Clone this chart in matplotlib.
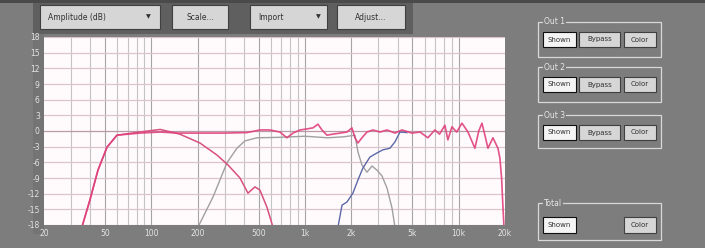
import matplotlib
matplotlib.use("Agg")
import matplotlib.pyplot as plt
from matplotlib.patches import Rectangle

# data (Hz, dB)
woofer_f = [35.3, 39.8, 44.9, 51.4, 59.7, 84, 114, 153, 207, 267, 315, 377, 425, 472, 508, 565, 618]
woofer_db = [-18.4, -13.2, -7.5, -3.1, -0.8, -0.2, 0.3, -0.6, -2.3, -4.6, -6.5, -9.0, -11.9, -10.7, -11.3, -14.6, -18.4]

mid_f = [201, 252, 310, 360, 406, 486, 700, 1000, 1400, 1800, 2111, 2208, 2345, 2528, 2725, 2937, 3165, 3411, 3676, 3846]
mid_db = [-18.4, -12.6, -6.1, -3.3, -1.9, -1.3, -1.2, -1.0, -1.3, -1.1, -0.8, -4.0, -6.5, -7.9, -6.7, -7.5, -8.6, -10.9, -14.7, -18.4]

tweet_f = [1637, 1739, 1873, 2048, 2207, 2378, 2642, 2938, 3213, 3565, 3843, 4144, 4600]
tweet_db = [-18.4, -14.2, -13.6, -11.9, -9.4, -7.1, -5.0, -4.2, -3.6, -3.3, -2.1, -0.2, -0.3]

total_f = [35.3, 39.8, 44.9, 51.4, 59.7, 84, 114, 150, 200, 300, 420, 508, 590, 686, 762, 834, 927,
           1028, 1125, 1213, 1288, 1388, 1518, 1686, 1873, 2019, 2111, 2208, 2345, 2528, 2767, 3070,
           3410, 3843, 4268, 4957, 5600, 6297, 6995, 7500, 8126, 8496, 9034, 9700, 10494, 11481,
           12742, 13500, 14158, 14800, 15490, 16690, 17990, 18530, 19000, 19370, 19700]
total_db = [-18.4, -13.2, -7.5, -3.1, -0.8, -0.4, -0.2, -0.4, -0.4, -0.4, -0.3, 0.2, 0.2, -0.2, -1.3,
            -0.4, 0.2, 0.4, 0.6, 1.3, 0.2, -0.8, -0.6, -0.4, -0.2, 0.6, -1.3, -2.3, -1.3, -0.2, 0.2,
            -0.2, 0.2, -0.4, 0.2, -0.4, -0.2, -1.3, 0.2, -0.6, 1.1, -1.7, 0.8, -0.2, 1.5, -0.2, -3.3,
            0.0, 1.5, -0.8, -3.3, -1.3, -3.3, -5.2, -9.0, -14.2, -18.4]

x_ticks = [20, 50, 100, 200, 500, 1000, 2000, 5000, 10000, 20000]
x_labels = ["20", "50", "100", "200", "500", "1k", "2k", "5k", "10k", "20k"]
y_ticks = list(range(18, -19, -3))

W, H = 705, 248
fig = plt.figure(figsize=(W / 100, H / 100), dpi=100, facecolor="#7d7d7d")

# UI layer in pixel coordinates
ui = fig.add_axes([0, 0, 1, 1])
ui.set_xlim(0, W)
ui.set_ylim(H, 0)
ui.axis("off")
ui.set_zorder(0)


def button(x0, y0, x1, y1, label, face="#d6d6d6", edge="#404040", tc="#303030", fs=5.5, ha="center"):
    ui.add_patch(Rectangle((x0, y0), x1 - x0, y1 - y0, facecolor=face, edgecolor=edge, lw=0.8))
    tx = (x0 + x1) / 2 if ha == "center" else x0 + 8
    ui.text(tx, (y0 + y1) / 2, label, ha=ha, va="center", fontsize=fs, color=tc)


def group(x0, y0, x1, y1, label):
    ui.add_patch(Rectangle((x0, y0), x1 - x0, y1 - y0, facecolor="none", edgecolor="#d8d8d8", lw=0.9))
    ui.text(x0 + 6, y0, label, ha="left", va="center", fontsize=5.5, color="#e8e8e8",
            bbox=dict(facecolor="#7d7d7d", edgecolor="none", pad=0.5))


# toolbar
ui.add_patch(Rectangle((33, 0), 380, 34, facecolor="#5f5f5f", edgecolor="none"))
ui.add_patch(Rectangle((0, 0), W, 3, facecolor="#4a4a4a", edgecolor="none"))
ui.add_patch(Rectangle((33, 34), 11, 200, facecolor="#747474", edgecolor="none"))
button(40, 5, 160, 29, "Amplitude (dB)", ha="left")
ui.text(148, 17, "\u25bc", ha="center", va="center", fontsize=4.5, color="#303030")
button(172, 5, 228, 29, "Scale...")
button(250, 5, 327, 29, "Import", ha="left")
ui.text(318, 17, "\u25bc", ha="center", va="center", fontsize=4.5, color="#303030")
button(337, 5, 405, 29, "Adjust...")

# outputs panel
for i, (ya, yb) in enumerate([(22, 57), (67, 102), (115, 148)]):
    group(538, ya, 661, yb, "Out %d" % (i + 1))
    by0 = ya + 10
    button(543, by0, 576, by0 + 15, "Shown", face="#f4f4f4", edge="#101010", fs=5)
    button(579, by0, 620, by0 + 15, "Bypass", fs=5)
    button(624, by0, 656, by0 + 15, "Color", fs=5)
group(538, 203, 661, 240, "Total")
button(543, 217, 576, 233, "Shown", face="#f4f4f4", edge="#101010", fs=5)
button(624, 217, 656, 233, "Color", fs=5)

# response plot
ax = fig.add_axes([44 / W, 1 - 225 / H, 461 / W, 188 / H])
ax.set_zorder(1)
ax.set_facecolor("#fffbfc")
ax.set_xscale("log")
ax.set_xlim(20, 20000)
ax.set_ylim(-18, 18)

for dec in [10, 100, 1000, 10000]:
    for m in range(1, 10):
        f = dec * m
        if 20 < f < 20000:
            ax.axvline(f, color="#a4a4a4" if m in (1, 2, 5) else "#c4c4c4", lw=0.8, zorder=1)
for yv in y_ticks:
    ax.axhline(yv, color="#dcc4cc" if yv != 0 else "#b89aa4", lw=0.9, zorder=1)

ax.plot(mid_f, mid_db, color="#a0a0a0", lw=1.0, zorder=3)
ax.plot(tweet_f, tweet_db, color="#5c68a8", lw=1.0, zorder=3)
ax.plot(woofer_f, woofer_db, color="#d8507e", lw=1.1, zorder=4)
ax.plot(total_f, total_db, color="#e0407c", lw=1.2, alpha=0.9, zorder=5)

ax.set_xticks(x_ticks)
ax.set_xticklabels(x_labels)
ax.xaxis.set_minor_locator(matplotlib.ticker.NullLocator())
ax.set_yticks(y_ticks)
ax.set_yticklabels([str(v) for v in y_ticks])
ax.tick_params(length=0, labelsize=5.5, colors="#e4e4e4", pad=3)
for s in ax.spines.values():
    s.set_visible(False)

fig.savefig("out.png", dpi=100, facecolor=fig.get_facecolor())
